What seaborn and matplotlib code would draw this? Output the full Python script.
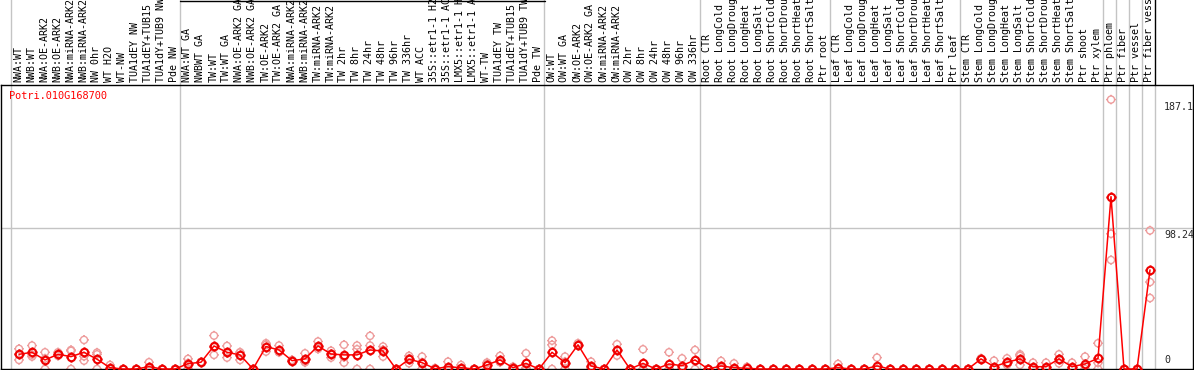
import numpy as np
import pandas as pd
import matplotlib
matplotlib.use("Agg")
import matplotlib.pyplot as plt
import matplotlib.transforms as mtrans
from matplotlib.path import Path
from matplotlib.lines import Line2D
import seaborn as sns

gene = "Potri.010G168700"

labels = [
    "NWA:WT", "NWB:WT", "NWA:OE-ARK2", "NWB:OE-ARK2", "NWA:miRNA-ARK2", "NWB:miRNA-ARK2",
    "NW 0hr", "WT H2O", "WT-NW", "TUA1dEY NW", "TUA1dEY+TUB15 ", "TUA1dY+TUB9 NW", "Pde NW",
    "NWA:WT GA", "NWBWT GA", "TW:WT", "TW:WT GA", "NWA:OE-ARK2 GA", "NWB:OE-ARK2 GA",
    "TW:OE-ARK2", "TW:OE-ARK2 GA", "NWA:miRNA-ARK2", "NWB:miRNA-ARK2", "TW:miRNA-ARK2",
    "TW:miRNA-ARK2", "TW 2hr", "TW 8hr", "TW 24hr", "TW 48hr", "TW 96hr", "TW 336hr",
    "WT ACC", "35S::etr1-1 H2", "35S::etr1-1 AC", "LMX5::etr1-1 H", "LMX5::etr1-1 A",
    "WT-TW", "TUA1dEY TW", "TUA1dEY+TUB15 ", "TUA1dY+TUB9 TW", "Pde TW",
    "OW:WT", "OW:WT GA", "OW:OE-ARK2", "OW:OE-ARK2 GA", "OW:miRNA-ARK2", "OW:miRNA-ARK2",
    "OW 2hr", "OW 8hr", "OW 24hr", "OW 48hr", "OW 96hr", "OW 336hr",
    "Root CTR", "Root LongCold", "Root LongDroug", "Root LongHeat", "Root LongSalt",
    "Root ShortCold", "Root ShortDrou", "Root ShortHeat", "Root ShortSalt", "Ptr root",
    "Leaf CTR", "Leaf LongCold", "Leaf LongDroug", "Leaf LongHeat", "Leaf LongSalt",
    "Leaf ShortCold", "Leaf ShortDrou", "Leaf ShortHeat", "Leaf ShortSalt", "Ptr leaf",
    "Stem CTR", "Stem LongCold", "Stem LongDroug", "Stem LongHeat", "Stem LongSalt",
    "Stem ShortCold", "Stem ShortDrou", "Stem ShortHeat", "Stem ShortSalt", "Ptr shoot",
    "Ptr xylem", "Ptr phloem", "Ptr fiber", "Ptr vessel", "Ptr fiber vess",
]

means = [
    10.2, 11.6, 6.3, 10.2, 8.6, 11.6, 6.8, 0.9, 0, 0, 1.6, 0, 0,
    3.7, 4.7, 16.0, 11.6, 9.8, 0, 15.6, 13.2, 5.8, 7.0, 16.0, 10.4, 9.8, 9.8, 13.2, 12.5,
    0, 6.8, 4.4, 0.2, 1.6, 0.9, 0, 2.8, 6.3, 0.9, 3.9, 0,
    11.6, 4.4, 16.8, 2.1, 0, 13.2, 0, 3.9, 0, 3.5, 2.3, 6.3,
    0, 2.1, 0.9, 0.5, 0, 0, 0, 0, 0, 0,
    0.9, 0, 0, 2.1, 0, 0, 0, 0, 0, 0,
    0, 7.0, 1.6, 4.7, 7.0, 1.6, 1.6, 7.0, 1.6, 3.5, 7.4,
    119.7, 0, 0, 68.8,
]

rep1 = [
    14.0, 16.3, 11.6, 11.6, 13.2, 20.2, 11.4, 2.8, 0, 0, 4.7, 0, 0,
    7.0, 5.0, 23.2, 16.0, 11.6, 0, 17.9, 16.3, 6.3, 10.9, 19.1, 12.7, 16.8, 16.3, 23.0, 15.6,
    0, 9.1, 8.6, 0.6, 5.1, 2.8, 0, 4.5, 9.1, 1.6, 10.9, 0,
    19.7, 8.6, 17.9, 5.1, 0, 17.2, 0, 13.7, 0, 11.6, 7.4, 13.2,
    0, 5.6, 3.9, 1.5, 0, 0, 0, 0, 0, 0,
    3.5, 0, 0, 7.9, 0, 0, 0, 0, 0, 0,
    0, 7.4, 5.8, 7.4, 10.2, 4.4, 4.4, 10.2, 4.4, 8.6, 17.9,
    187.1, 0, 0, 96.2,
]

rep2 = [
    10.3, 9.9, 7.3, 9.9, 12.6, 8.8, 10.2, 0, 0, 0, 0, 0, 0,
    4.1, 4.5, 15.0, 11.0, 11.5, 0, 16.8, 11.7, 5.6, 5.5, 15.0, 10.6, 8.2, 13.7, 16.3, 13.3,
    0, 7.3, 4.6, 0, 0, 0, 0, 3.9, 5.1, 1.1, 0.8, 0,
    16.8, 5.1, 16.3, 1.2, 0, 13.1, 0, 0, 0, 0, 0, 5.7,
    0, 0.7, 0, 0, 0, 0, 0, 0, 0, 0,
    0, 0, 0, 0, 0, 0, 0, 0, 0, 0,
    0, 7.0, 0, 3.9, 9.1, 0.5, 0.4, 7.0, 0.5, 1.9, 4.3,
    93.9, 0, 0, 60.4,
]

rep3 = [
    6.3, 8.6, 0, 9.1, 0, 5.8, 0, 0, 0, 0, 0, 0, 0,
    0, 4.6, 9.8, 7.9, 6.3, 0, 12.1, 11.6, 5.5, 4.6, 13.9, 7.9, 4.4, 0, 0, 8.6,
    0, 4.0, 0, 0, 0, 0, 0, 0, 4.7, 0, 0, 0,
    0, 0, 16.2, 0, 0, 9.3, 0, 0, 0, 0, 0, 0,
    0, 0, 0, 0, 0, 0, 0, 0, 0, 0,
    0, 0, 0, 0, 0, 0, 0, 0, 0, 0,
    0, 6.5, 0, 2.8, 2.8, 0, 0, 3.9, 0, 0, 0,
    75.7, 0, 0, 49.3,
]

group_edges = [0, 13, 41, 53, 63, 73, 84, 85, 86, 87, 88]
axis_values = [187.1, 98.24, 0]

W, H = 1194, 370
sns.set_style("white")
plt.rcParams["font.family"] = ["DejaVu Sans Mono", "DejaVu Sans"]

fig = plt.figure(figsize=(W / 100, H / 100), dpi=100)
ax_left, ax_right, ax_top, ax_bot = 1, 1193, 85, 369
ax = fig.add_axes([ax_left / W, (H - ax_bot) / H, (ax_right - ax_left) / W, (ax_bot - ax_top) / H])

n = len(labels)
x = np.arange(n)
px_per_unit = 13.0
x0px = 19.0
ax.set_xlim((ax_left - x0px) / px_per_unit, (ax_right - x0px) / px_per_unit)
yscale = 1.44
ax.set_ylim(0, (ax_bot - ax_top) / yscale)

# custom marker: circle with four small ticks
circ = Path.unit_circle()
t = 1.35
ticks = Path([(0, 1), (0, t), (0, -1), (0, -t), (1, 0), (t, 0), (-1, 0), (-t, 0)],
             [Path.MOVETO, Path.LINETO] * 4)
marker_path = Path.make_compound_path(circ, ticks)

# gridlines
axes_h = ax_bot - ax_top
ext = 1 + (ax_top + 1) / axes_h
for k in group_edges:
    gx = k - 0.64
    if k == 88:
        ax.axvline(gx, 0, 1, color="#c4c4c4", lw=1, zorder=0)
        ax.axvline(gx, 1, ext, color="black", lw=1, zorder=0, clip_on=False)
    else:
        ax.axvline(gx, 0, ext, color="#c4c4c4", lw=1, zorder=0, clip_on=False)
ax.axhline(axis_values[1], color="#c4c4c4", lw=1, zorder=0)

# replicates
reps = pd.DataFrame({
    "x": np.concatenate([x, x, x]),
    "value": np.concatenate([rep1, rep2, rep3]),
})
sns.scatterplot(data=reps, x="x", y="value", ax=ax, marker=marker_path, s=48,
                facecolor="none", edgecolor="#ee9c9c", linewidth=1.0, zorder=2,
                clip_on=False, legend=False)

# means
mdf = pd.DataFrame({"x": x, "value": means})
sns.lineplot(data=mdf, x="x", y="value", ax=ax, color="#ff0000", lw=1.1,
             marker=marker_path, markersize=7.2, markerfacecolor="none",
             markeredgecolor="#ee0000", markeredgewidth=1.5, zorder=3,
             clip_on=False, legend=False)

ax.set_xticks([])
ax.set_yticks([])
ax.set_xlabel("")
ax.set_ylabel("")
for s in ax.spines.values():
    s.set_color("black")
    s.set_linewidth(1)
    s.set_visible(True)

# sample labels above the plot
trans = mtrans.blended_transform_factory(ax.transData, ax.transAxes)
for i, lab in enumerate(labels):
    ax.text(i - 0.05, 1 + 3 / axes_h, lab, rotation=90, ha="center", va="bottom",
            transform=trans, clip_on=False, fontsize=7.2, color="black")

# gene name
ax.text((9 - ax_left) / (ax_right - ax_left), (ax_bot - 91) / axes_h, gene,
        transform=ax.transAxes, ha="left", va="top", color="#ff0000", fontsize=7.4)

# right-side value labels
xl = (1164 - x0px) / px_per_unit
ax.text(xl, axis_values[0] - 1.5, f"{axis_values[0]}", ha="left", va="top", fontsize=7.2)
ax.text(xl, axis_values[1] - 1.5, f"{axis_values[1]}", ha="left", va="top", fontsize=7.2)
ax.text(xl, 2.5, f"{axis_values[2]}", ha="left", va="bottom", fontsize=7.2)

# top border over second label group
fig.add_artist(Line2D([180 / W, 545 / W], [1 - 0.5 / H, 1 - 0.5 / H],
                      color="black", lw=1, transform=fig.transFigure))

fig.savefig("out.png", dpi=100)
